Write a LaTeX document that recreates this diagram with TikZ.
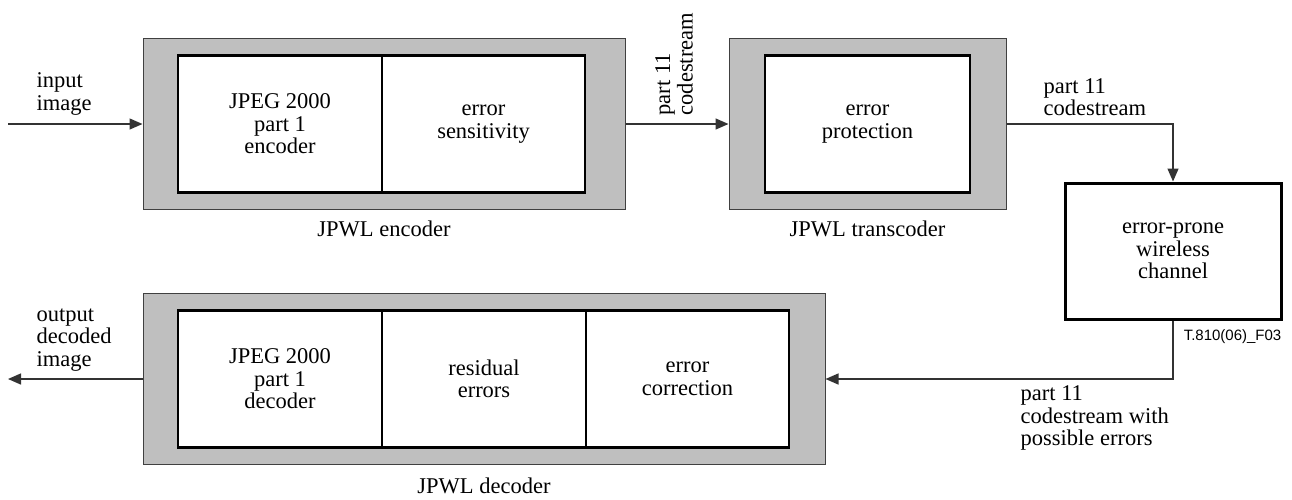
\documentclass[tikz,border=0pt]{standalone}
\usepackage{fontspec}
\setmainfont{Liberation Serif}
\newfontfamily\tagfont{Liberation Sans}
\usetikzlibrary{positioning,arrows.meta}
\tikzstyle{shell} = [rectangle,
                    draw=black!75,
                    line width=1pt,
                    fill=black!25,
                    minimum height=171pt]
\tikzstyle{block} = [rectangle,
                    align=center,
                    draw=black,
                    fill=white,
                    line width=2.5pt,
                    outer sep=0pt,
                    minimum height=137pt]
\tikzstyle{lbl} = [align=left, inner sep=0pt]
\tikzstyle{flow} = [x=1pt, y=-1pt,
                   >={Triangle[length=13pt,width=11pt]},
                   line width=1.4pt,
                   font=\fontsize{22.5}{22.5}\selectfont]

\begin{document}
\begin{tikzpicture}[flow]
    \useasboundingbox (0,0) rectangle (1292,499);
    % encoder
    \node (enc) [shell, minimum width=482pt] at (384,124) {};
    \node (enc1) [block, minimum width=204pt] at (280,124) {JPEG 2000\\part 1\\encoder};
    \node (enc2) [block, minimum width=203pt, right=0pt of enc1] {error\\sensitivity};
    \node (encl) [below=10pt of enc, inner sep=0pt] {JPWL encoder};
    % transcoder
    \node (trans) [shell, minimum width=277pt] at (867.5,124) {};
    \node (trans1) [block, minimum width=205pt] at (867.5,124) {error\\protection};
    \node (transl) [below=10pt of trans, inner sep=0pt] {JPWL transcoder};
    % channel
    \node (chan) [rectangle, draw=black, line width=3pt, align=center,
                  minimum width=216pt, minimum height=136pt] at (1173,251) {error-prone\\wireless\\channel};
    \node (tag) [anchor=base east, inner sep=0pt, font=\tagfont\fontsize{15}{15}\selectfont] at (1282,340) {T.810(06)\_F03};
    % decoder
    \node (dec) [shell, minimum width=682pt] at (484,379) {};
    \node (dec1) [block, minimum width=204pt] at (280,379) {JPEG 2000\\part 1\\decoder};
    \node (dec2) [block, minimum width=204pt, right=0pt of dec1] {residual\\errors};
    \node (dec3) [block, minimum width=203pt, right=0pt of dec2] {error\\correction};
    \node (decl) [below=12pt of dec, inner sep=0pt] {JPWL decoder};
    % free ends
    \coordinate (in) at (8,124);
    \coordinate (out) at (8,379);
    % labels
    \node (inl) [lbl, anchor=west] at (36,94) {input\\image};
    \node (outl) [lbl, anchor=west] at (36,340) {output\\decoded\\image};
    \node (cs1) [lbl, rotate=90, anchor=west] at (674,116) {part 11\\codestream};
    \node (cs2) [lbl, anchor=west] at (1043,97) {part 11\\codestream};
    \node (cs3) [lbl, anchor=west] at (1020,418) {part 11\\codestream with\\possible errors};
    \path[->, black!80]
      (in) edge (enc)
      (enc) edge (trans)
      (dec) edge (out);
    \draw[->, black!80] (trans) -| (chan);
    \draw[->, black!80] (chan) |- (dec);
\end{tikzpicture}
\end{document}
